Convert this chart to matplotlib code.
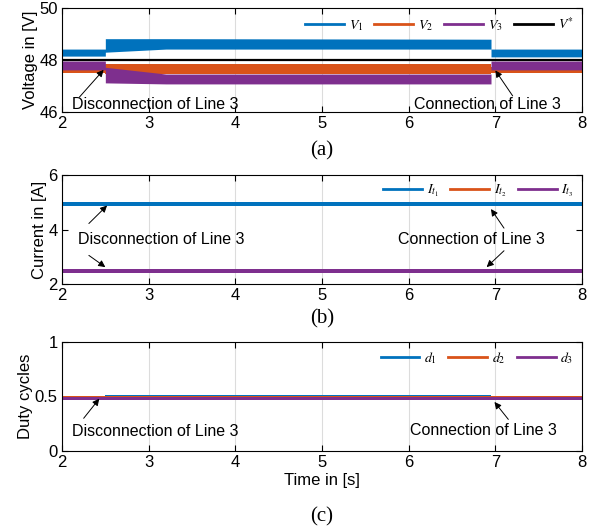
import matplotlib
matplotlib.use("Agg")
import matplotlib.pyplot as plt
from matplotlib.lines import Line2D

plt.rcParams['font.family'] = ['Liberation Sans', 'DejaVu Sans']
plt.rcParams['mathtext.fontset'] = 'stix'

C_BLUE = '#0072BD'
C_ORANGE = '#D95319'
C_PURPLE = '#7E2F8E'

# Napiecia: granice pasma szumu (dolna / gorna) w punktach zalamania
t_v1 = [2.0, 2.5, 2.5, 3.2, 6.95, 6.95, 8.0]
v1_dol = [48.15, 48.15, 48.30, 48.42, 48.42, 48.12, 48.12]
v1_gora = [48.42, 48.42, 48.82, 48.82, 48.80, 48.42, 48.42]

t_v2 = [2.0, 2.5, 2.5, 6.95, 6.95, 8.0]
v2_dol = [47.50, 47.50, 47.45, 47.45, 47.50, 47.50]
v2_gora = [47.70, 47.70, 47.84, 47.84, 47.75, 47.75]

t_v3 = [2.0, 2.5, 2.5, 3.2, 6.95, 6.95, 8.0]
v3_dol = [47.62, 47.62, 47.12, 47.08, 47.08, 47.62, 47.62]
v3_gora = [47.96, 47.96, 47.72, 47.46, 47.46, 47.96, 47.96]

t_ref = [2.0, 8.0]
v_ref = [48.0, 48.0]

# Prady
t_i = [2.0, 8.0]
i1_dol = [4.88, 4.88]
i1_gora = [5.00, 5.00]
i2_dol = [2.41, 2.41]
i2_gora = [2.565, 2.565]
i3_dol = [2.42, 2.42]
i3_gora = [2.55, 2.55]

# Wspolczynniki wypelnienia
t_d = [2.0, 2.5, 2.5, 6.95, 6.95, 8.0]
d1_dol = [0.470, 0.470, 0.480, 0.480, 0.470, 0.470]
d1_gora = [0.500, 0.500, 0.515, 0.515, 0.500, 0.500]
d2_dol = [0.466, 0.466, 0.470, 0.470, 0.466, 0.466]
d2_gora = [0.503, 0.503, 0.505, 0.505, 0.503, 0.503]
d3_dol = [0.464, 0.464, 0.466, 0.466, 0.464, 0.464]
d3_gora = [0.496, 0.496, 0.497, 0.497, 0.496, 0.496]

x_ticks = [2, 3, 4, 5, 6, 7, 8]

fig = plt.figure(figsize=(6.07, 5.31), dpi=100)
L, W = 62 / 607, 520 / 607
ax_a = fig.add_axes([L, 1 - 112 / 531, W, 104 / 531])
ax_b = fig.add_axes([L, 1 - 284 / 531, W, 109 / 531])
ax_c = fig.add_axes([L, 1 - 451 / 531, W, 109 / 531])

FS = 12


def ustaw_os(ax, ylim, yticks, ylabel):
    ax.set_xlim(2, 8)
    ax.set_ylim(*ylim)
    ax.set_xticks(x_ticks)
    ax.set_yticks(yticks)
    ax.set_ylabel(ylabel, fontsize=FS, labelpad=1)
    ax.tick_params(direction='in', top=True, right=True, labelsize=FS,
                   length=4, width=0.8, pad=3)
    ax.xaxis.grid(True, color='#dcdcdc', linewidth=0.8)
    ax.set_axisbelow(True)
    for s in ax.spines.values():
        s.set_linewidth(0.8)


def strzalka(ax, xy, xytext):
    ax.annotate('', xy=xy, xytext=xytext,
                arrowprops=dict(arrowstyle='-|>', color='black', lw=0.7,
                                mutation_scale=10, shrinkA=0, shrinkB=0))


def legenda(ax, uchwyty, etykiety):
    ax.legend(uchwyty, etykiety, ncol=len(etykiety), loc='upper right',
              frameon=False, fontsize=10, handlelength=2.8, columnspacing=0.8,
              handletextpad=0.35, borderaxespad=0.2)


# (a) napiecia
ax_a.fill_between(t_v1, v1_dol, v1_gora, color=C_BLUE, lw=0)
ax_a.fill_between(t_v2, v2_dol, v2_gora, color=C_ORANGE, lw=0)
ax_a.fill_between(t_v3, v3_dol, v3_gora, color=C_PURPLE, lw=0)
ax_a.plot(t_ref, v_ref, color='black', lw=1.6)
ustaw_os(ax_a, (46, 50), [46, 48, 50], 'Voltage in [V]')
ax_a.text(2.12, 46.28, 'Disconnection of Line 3', fontsize=FS - 0.5, va='center')
strzalka(ax_a, (2.48, 47.62), (2.2, 46.57))
ax_a.text(6.06, 46.28, 'Connection of Line 3', fontsize=FS - 0.5, va='center')
strzalka(ax_a, (7.0, 47.6), (7.2, 46.62))
h_a = [Line2D([], [], color=c, lw=2) for c in (C_BLUE, C_ORANGE, C_PURPLE, 'black')]
legenda(ax_a, h_a, ['$V_1$', '$V_2$', '$V_3$', '$V^{*}$'])
ax_a.text(0.5, -0.37, '(a)', transform=ax_a.transAxes, ha='center', va='center',
          fontsize=15, family='Liberation Serif')

# (b) prady
ax_b.fill_between(t_i, i1_dol, i1_gora, color=C_BLUE, lw=0)
ax_b.fill_between(t_i, i2_dol, i2_gora, color=C_ORANGE, lw=0)
ax_b.fill_between(t_i, i3_dol, i3_gora, color=C_PURPLE, lw=0)
ustaw_os(ax_b, (2, 6), [2, 4, 6], 'Current in [A]')
ax_b.text(2.19, 3.62, 'Disconnection of Line 3', fontsize=FS - 0.5, va='center')
strzalka(ax_b, (2.52, 4.88), (2.31, 4.22))
strzalka(ax_b, (2.5, 2.62), (2.31, 3.05))
ax_b.text(5.88, 3.62, 'Connection of Line 3', fontsize=FS - 0.5, va='center')
strzalka(ax_b, (6.95, 4.75), (7.1, 4.05))
strzalka(ax_b, (6.9, 2.62), (7.1, 3.22))
h_b = [Line2D([], [], color=c, lw=2) for c in (C_BLUE, C_ORANGE, C_PURPLE)]
legenda(ax_b, h_b, ['$I_{t_1}$', '$I_{t_2}$', '$I_{t_3}$'])
ax_b.text(0.5, -0.32, '(b)', transform=ax_b.transAxes, ha='center', va='center',
          fontsize=15, family='Liberation Serif')

# (c) wspolczynniki wypelnienia
ax_c.fill_between(t_d, d1_dol, d1_gora, color=C_BLUE, lw=0)
ax_c.fill_between(t_d, d2_dol, d2_gora, color=C_ORANGE, lw=0)
ax_c.fill_between(t_d, d3_dol, d3_gora, color=C_PURPLE, lw=0)
ustaw_os(ax_c, (0, 1), [0, 0.5, 1], 'Duty cycles')
ax_c.yaxis.set_major_formatter(plt.FuncFormatter(lambda v, p: f'{v:g}'))
ax_c.text(2.11, 0.175, 'Disconnection of Line 3', fontsize=FS - 0.5, va='center')
strzalka(ax_c, (2.43, 0.48), (2.25, 0.3))
ax_c.text(6.02, 0.185, 'Connection of Line 3', fontsize=FS - 0.5, va='center')
strzalka(ax_c, (6.99, 0.45), (7.15, 0.29))
legenda(ax_c, h_b, ['$d_1$', '$d_2$', '$d_3$'])
ax_c.set_xlabel('Time in [s]', fontsize=FS, labelpad=2)
ax_c.text(0.5, -0.6, '(c)', transform=ax_c.transAxes, ha='center', va='center',
          fontsize=15, family='Liberation Serif')

fig.savefig('out.png', dpi=100)
